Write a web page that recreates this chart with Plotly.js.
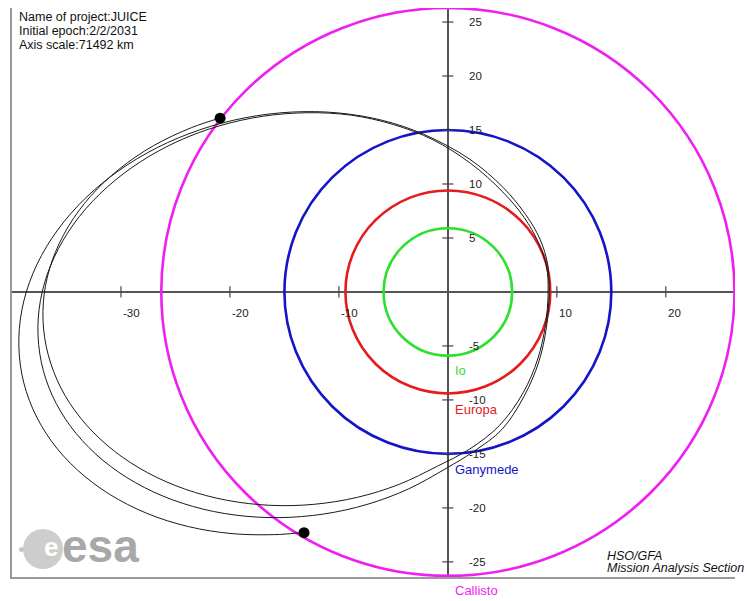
<!DOCTYPE html>
<html>
<head>
<meta charset="utf-8">
<script src="https://cdn.plot.ly/plotly-3.0.1.min.js"></script>
<style>html,body{margin:0;padding:0;background:#fff;}#chart{width:747px;height:601px;}</style>
</head>
<body>
<div id="chart"></div>
<script>
// ---- data (units: Jupiter radii, axis scale 71492 km) ----
const moonNames = ['Io', 'Europa', 'Ganymede', 'Callisto'];
const moonRadii = [5.9, 9.4, 15.0, 26.3];

const xTickValues = [-30, -20, -10, 10, 20];
const yTickValues = [25, 20, 15, 10, 5, -5, -10, -15, -20, -25];

// spacecraft trajectory (from the upper dot, counter-clockwise, three loops, to the lower dot)
const trajX = [
  -20.86, -23.50, -27.03, -30.15, -32.79, -34.85, -36.29, -37.05, -37.10, -36.45, -35.13, -33.15, -30.60, -27.54,
  -24.07, -20.30, -16.33, -12.30, -8.31, -4.50, -0.97, 2.0, 4.75, 6.9, 8.25, 8.95, 9.2,
  9.05, 8.3, 7.0, 5.0, 2.1, -1.38, -4.98, -8.86, -12.91, -16.99, -20.98, -24.77, -28.24, -31.28, -33.81, -35.73,
  -37.01, -37.59, -37.46, -36.63, -35.11, -32.95, -30.23, -27.02, -23.42, -19.54, -15.49, -11.41, -7.42, -3.63,
  -0.16, 2.4, 4.95, 7.0, 8.35, 9.05, 9.3,
  9.15, 8.45, 7.15, 5.1, 2.0, -2.21, -6.03, -10.13, -14.37, -18.62, -22.76, -26.67, -30.21, -33.29, -35.82, -37.71,
  -38.91, -39.37, -39.10, -38.09, -36.38, -34.01, -31.06, -27.63, -23.81, -19.71, -15.47, -13.21
];
const trajY = [
  16.12, 15.23, 13.54, 11.39, 8.87, 6.03, 2.97, -0.22, -3.44, -6.60, -9.60, -12.34, -14.75, -16.75,
  -18.28, -19.29, -19.76, -19.67, -19.02, -17.83, -16.14, -14.55, -12.35, -9.35, -6.2, -3.1, 0,
  2.4, 4.6, 6.9, 9.3, 11.9, 14.1, 15.5, 16.37, 16.60, 16.27, 15.38, 13.96, 12.04, 9.70, 7.00, 4.02,
  0.85, -2.41, -5.66, -8.81, -11.75, -14.40, -16.68, -18.52, -19.86, -20.66, -20.90, -20.57, -19.68, -18.25,
  -16.34, -14.75, -12.75, -9.65, -6.45, -3.25, 0,
  2.6, 4.9, 7.15, 9.65, 12.3, 14.6, 15.9, 16.59, 16.66, 16.13, 15.02, 13.37, 11.23, 8.66, 5.73, 2.55,
  -0.81, -4.22, -7.60, -10.83, -13.82, -16.48, -18.73, -20.50, -21.73, -22.39, -22.46, -22.25
];

const dotX = [-20.9, -13.2];
const dotY = [16.1, -22.3];

const infoLines = ['Name of project:JUICE', 'Initial epoch:2/2/2031', 'Axis scale:71492 km'];
const creditLines = ['HSO/GFA', 'Mission Analysis Section'];

// ---- styles / placement ----
const FONT = 'Liberation Sans, Arial, Helvetica, sans-serif';
const moonColors = ['#2ee02e', '#e41c1c', '#1414c8', '#f01ef0'];
const moonLabelPos = [{y: -7.3, shift: 0}, {y: -10.9, shift: 0}, {y: -16.4, shift: 0}, {y: -26.3, shift: -15}];

const traces = [
  {x: trajX, y: trajY, mode: 'lines', type: 'scatter', hoverinfo: 'skip',
   line: {color: '#1a1a1a', width: 1, shape: 'spline', smoothing: 1}},
  {x: xTickValues, y: xTickValues.map(() => 0), mode: 'markers', type: 'scatter', hoverinfo: 'skip',
   marker: {symbol: 'line-ns', size: 8, line: {color: '#444', width: 1.2}}},
  {x: yTickValues.map(() => 0), y: yTickValues, mode: 'markers', type: 'scatter', hoverinfo: 'skip',
   marker: {symbol: 'line-ew', size: 8, line: {color: '#444', width: 1.2}}},
  {x: dotX, y: dotY, mode: 'markers', type: 'scatter', hoverinfo: 'skip',
   marker: {color: '#000', size: 11}}
];

const shapes = moonRadii.map((r, i) => ({
  type: 'circle', xref: 'x', yref: 'y', x0: -r, x1: r, y0: -r, y1: r,
  layer: 'between', line: {color: moonColors[i], width: 2.6}
}));

// ESA logo (paper coords from pixel positions)
const px = v => (v - 12) / 723, py = v => (577 - v) / 569;
shapes.push({type: 'circle', xref: 'paper', yref: 'paper', x0: px(23), x1: px(63), y0: py(569), y1: py(529),
  fillcolor: '#cdcdcd', line: {width: 0}, layer: 'above'});
shapes.push({type: 'circle', xref: 'paper', yref: 'paper', x0: px(19), x1: px(24), y0: py(552), y1: py(547),
  fillcolor: '#c4c4c4', line: {width: 0}, layer: 'above'});

const annotations = [];
xTickValues.forEach(v => annotations.push({x: v, y: 0, xref: 'x', yref: 'y', text: String(v), showarrow: false,
  xanchor: 'left', yanchor: 'middle', xshift: 0, yshift: -21, font: {family: FONT, size: 11.5, color: '#222'}}));
yTickValues.forEach(v => annotations.push({x: 0, y: v, xref: 'x', yref: 'y', text: String(v), showarrow: false,
  xanchor: 'left', yanchor: 'middle', xshift: 19, font: {family: FONT, size: 11.5, color: '#222'}}));
moonNames.forEach((n, i) => annotations.push({x: 0.45, y: moonLabelPos[i].y, yshift: moonLabelPos[i].shift,
  xref: 'x', yref: 'y', text: n, showarrow: false,
  xanchor: 'left', yanchor: 'middle', font: {family: FONT, size: 13, color: moonColors[i]}}));
const infoY = [17, 31, 45];
infoLines.forEach((t, i) => annotations.push({x: px(17), y: py(infoY[i]), xref: 'paper', yref: 'paper', text: t, showarrow: false,
  xanchor: 'left', yanchor: 'middle', font: {family: FONT, size: 12.5, color: '#111'}}));
const creditY = [556, 568];
creditLines.forEach((t, i) => annotations.push({x: px(605), y: py(creditY[i]), xref: 'paper', yref: 'paper', text: t, showarrow: false,
  xanchor: 'left', yanchor: 'middle', font: {family: FONT, size: 12.5, color: '#111', style: 'italic'}}));
annotations.push({x: px(51), y: py(547), xref: 'paper', yref: 'paper', text: '<b>e</b>', showarrow: false,
  xanchor: 'center', yanchor: 'middle', font: {family: FONT, size: 26, color: '#ffffff'}});
annotations.push({x: px(60), y: py(546), xref: 'paper', yref: 'paper', text: '<b>esa</b>', showarrow: false,
  xanchor: 'left', yanchor: 'middle', font: {family: FONT, size: 46, color: '#a8a8a8'}});

const layout = {
  width: 747, height: 601,
  margin: {l: 12, r: 12, t: 8, b: 24, pad: 0},
  paper_bgcolor: '#fff', plot_bgcolor: '#fff',
  showlegend: false,
  xaxis: {range: [-40.0, 26.35], showgrid: false, zeroline: true, zerolinecolor: '#555', zerolinewidth: 1.4,
          showline: true, linecolor: '#9a9a9a', linewidth: 2, showticklabels: false, ticks: '', fixedrange: true},
  yaxis: {range: [-26.4, 26.3], showgrid: false, zeroline: true, zerolinecolor: '#555', zerolinewidth: 1.4,
          showline: true, linecolor: '#9a9a9a', linewidth: 2, showticklabels: false, ticks: '', fixedrange: true},
  shapes: shapes,
  annotations: annotations
};

Plotly.newPlot('chart', traces, layout, {staticPlot: true, displayModeBar: false});
</script>
</body>
</html>
